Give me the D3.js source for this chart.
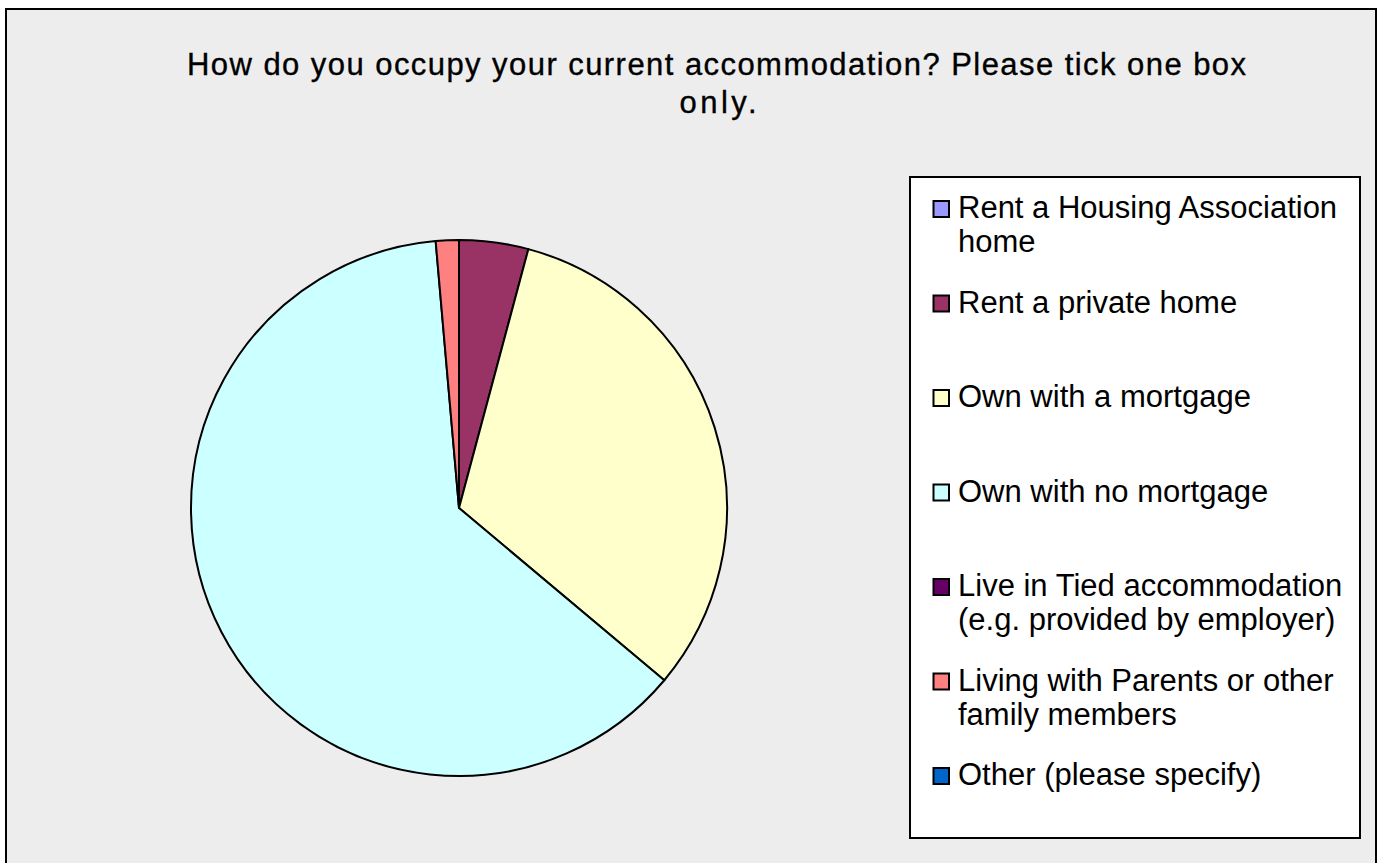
<!DOCTYPE html>
<html>
<head>
<meta charset="utf-8">
<script src="https://cdn.jsdelivr.net/npm/d3@7"></script>
<style>
  html, body { margin: 0; padding: 0; background: #ffffff; }
  svg { display: block; }
  text { font-family: "Liberation Sans", Arial, sans-serif; fill: #000; }
  .title { font-family: "Liberation Sans Narrow", "Arial Narrow", "Liberation Sans", sans-serif; }
</style>
</head>
<body>
<svg id="chart" width="1381" height="863"></svg>
<script>
// Survey responses: how respondents occupy their accommodation
const categories = [
  "Rent a Housing Association home",
  "Rent a private home",
  "Own with a mortgage",
  "Own with no mortgage",
  "Live in Tied accommodation (e.g. provided by employer)",
  "Living with Parents or other family members",
  "Other (please specify)"
];
const legendLines = [
  ["Rent a Housing Association", "home"],
  ["Rent a private home"],
  ["Own with a mortgage"],
  ["Own with no mortgage"],
  ["Live in Tied accommodation", "(e.g. provided by employer)"],
  ["Living with Parents or other", "family members"],
  ["Other (please specify)"]
];
const responses = [0, 3, 23, 45, 0, 1, 0];
const sliceColors = ["#9999FF", "#993366", "#FFFFCC", "#CCFFFF", "#660066", "#FF8080", "#0066CC"];
const titleLines = [
  "How do you occupy your current accommodation? Please tick one box",
  "only."
];

const svg = d3.select("#chart");

// Chart area panel
svg.append("rect")
  .attr("x", 6).attr("y", 9)
  .attr("width", 1370).attr("height", 870)
  .attr("fill", "#EDEDED")
  .attr("stroke", "#000").attr("stroke-width", 2);

// Title (narrow lettering, slightly heavier than the legend)
const title = svg.append("g")
  .attr("class", "title")
  .attr("stroke", "#000").attr("stroke-width", 0.35);
title.append("text")
  .attr("class", "title")
  .attr("x", 716.5).attr("y", 75)
  .attr("text-anchor", "middle")
  .attr("font-size", 31)
  .attr("textLength", 1059)
  .attr("lengthAdjust", "spacing")
  .text(titleLines[0]);
title.append("text")
  .attr("class", "title")
  .attr("x", 718).attr("y", 113)
  .attr("text-anchor", "middle")
  .attr("font-size", 31)
  .attr("textLength", 77)
  .attr("lengthAdjust", "spacing")
  .text(titleLines[1]);

// Pie
const cx = 459, cy = 508, radius = 268;
const color = d3.scaleOrdinal().domain(categories).range(sliceColors);
const pie = d3.pie().sort(null).value(d => d.value);
const arc = d3.arc().innerRadius(0).outerRadius(radius);
const data = categories.map((c, i) => ({ name: c, value: responses[i] }));

svg.append("g")
  .attr("transform", `translate(${cx},${cy})`)
  .selectAll("path")
  .data(pie(data).filter(d => d.data.value > 0))
  .join("path")
  .attr("d", arc)
  .attr("fill", d => color(d.data.name))
  .attr("stroke", "#000")
  .attr("stroke-width", 2)
  .attr("stroke-linejoin", "round");

// Legend
svg.append("rect")
  .attr("x", 910).attr("y", 177)
  .attr("width", 450).attr("height", 661)
  .attr("fill", "#fff")
  .attr("stroke", "#000").attr("stroke-width", 2);

const y = d3.scalePoint().domain(categories).range([218, 785]);
const item = svg.append("g").selectAll("g")
  .data(categories)
  .join("g")
  .attr("transform", d => `translate(0,${y(d)})`);

item.append("rect")
  .attr("x", 933.5).attr("y", -17)
  .attr("width", 15.5).attr("height", 16)
  .attr("fill", d => color(d))
  .attr("stroke", "#000").attr("stroke-width", 2);

item.each(function(d, i) {
  const g = d3.select(this);
  legendLines[i].forEach((line, j) => {
    g.append("text")
      .attr("x", 958).attr("y", j * 34)
      .attr("font-size", 31)
      .text(line);
  });
});
</script>
</body>
</html>
